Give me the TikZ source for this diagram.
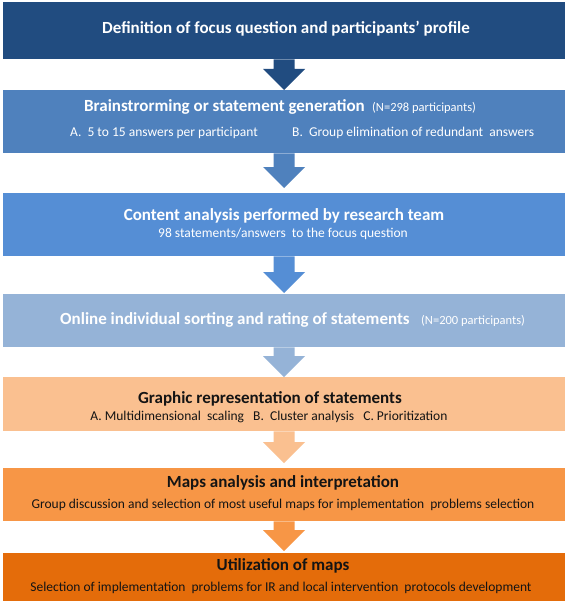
\documentclass[tikz,border=0pt]{standalone}
\usepackage{fontspec}
\setmainfont{Carlito}
\usetikzlibrary{calc}
\definecolor{cA}{RGB}{33,76,128}
\definecolor{cB}{RGB}{79,129,189}
\definecolor{cC}{RGB}{85,142,213}
\definecolor{cD}{RGB}{149,179,215}
\definecolor{cE}{RGB}{250,192,144}
\definecolor{cF}{RGB}{247,150,70}
\definecolor{cG}{RGB}{228,108,10}
\definecolor{darktext}{RGB}{20,20,20}
\tikzset{
  stagebox/.style={draw=none, rectangle, minimum width=562pt, inner sep=0pt, anchor=north},
  titletext/.style={anchor=base, inner sep=0pt, font=\fontsize{17}{19}\selectfont\bfseries},
  subtext/.style={anchor=base, inner sep=0pt, font=\fontsize{13.5}{15}\selectfont},
  ntext/.style={anchor=base west, inner sep=0pt, font=\fontsize{12.5}{14}\selectfont},
}
% block arrow from node #1 to node #2 in colour #3, tip #4 above #2's top
\newcommand{\blockarr}[4]{%
  \coordinate (#2tip) at ([yshift=#4]#2.north);
  \coordinate (#2hs) at ([yshift=21pt]#2tip);
  \fill[#3] ([xshift=-10.5pt]#1.south) -- ([xshift=-10.5pt]#2hs) -- ([xshift=-21pt]#2hs)
    -- (#2tip) -- ([xshift=21pt]#2hs) -- ([xshift=10.5pt]#2hs) -- ([xshift=10.5pt]#1.south) -- cycle;
}
\begin{document}
\begin{tikzpicture}[x=1pt,y=-1pt]
\fill[white] (0,0) rectangle (566,602);
\useasboundingbox (0,0) rectangle (566,602);

% boxes
\node[stagebox, fill=cA, minimum height=57pt] (b1) at (284,2) {};
\node[stagebox, fill=cB, minimum height=63pt] (b2) at (284,90) {};
\node[stagebox, fill=cC, minimum height=63pt] (b3) at (284,193) {};
\node[stagebox, fill=cD, minimum height=53pt] (b4) at (284,294) {};
\node[stagebox, fill=cE, minimum height=54pt] (b5) at (284,377) {};
\node[stagebox, fill=cF, minimum height=53pt] (b6) at (284,468) {};
\node[stagebox, fill=cG, minimum height=48pt] (b7) at (284,553) {};

% arrows
\blockarr{b1}{b2}{cA}{0pt}
\blockarr{b2}{b3}{cB}{5pt}
\blockarr{b3}{b4}{cC}{1pt}
\blockarr{b4}{b5}{cD}{0pt}
\blockarr{b5}{b6}{cE}{5pt}
\blockarr{b6}{b7}{cF}{2pt}

% texts
\node[titletext, white] (t1) at (286,34) {Definition of focus question and participants’ profile};

\node[titletext, white, anchor=base west] (t2) at (84,111) {Brainstrorming or statement generation};
\node[ntext, white] (n2) at (372,111) {(N=298 participants)};
\node[subtext, white, anchor=base west] (s2a) at (70,136) {A.\ \ 5 to 15 answers per participant};
\node[subtext, white, anchor=base west] (s2b) at (292,136) {B.\ \ Group elimination of redundant\ \ answers};

\node[titletext, white] (t3) at (284,220) {Content analysis performed by research team};
\node[subtext, white] (s3) at (283,237) {98 statements/answers\ \ to the focus question};

\node[titletext, white, anchor=base west] (t4) at (60,324) {Online individual sorting and rating of statements};
\node[ntext, white] (n4) at (421,324) {(N=200 participants)};

\node[titletext, darktext] (t5) at (270,403) {Graphic representation of statements};
\node[subtext, darktext] (s5) at (269,420) {A. Multidimensional\ \ scaling\ \ \ B.\ \ Cluster analysis\ \ \ C. Prioritization};

\node[titletext, darktext] (t6) at (283,487) {Maps analysis and interpretation};
\node[subtext, darktext] (s6) at (283,508) {Group discussion and selection of most useful maps for implementation\ \ problems selection};

\node[titletext, darktext] (t7) at (283,570) {Utilization of maps};
\node[subtext, darktext] (s7) at (281,591) {Selection of implementation\ \ problems for IR and local intervention\ \ protocols development};
\end{tikzpicture}
\end{document}
